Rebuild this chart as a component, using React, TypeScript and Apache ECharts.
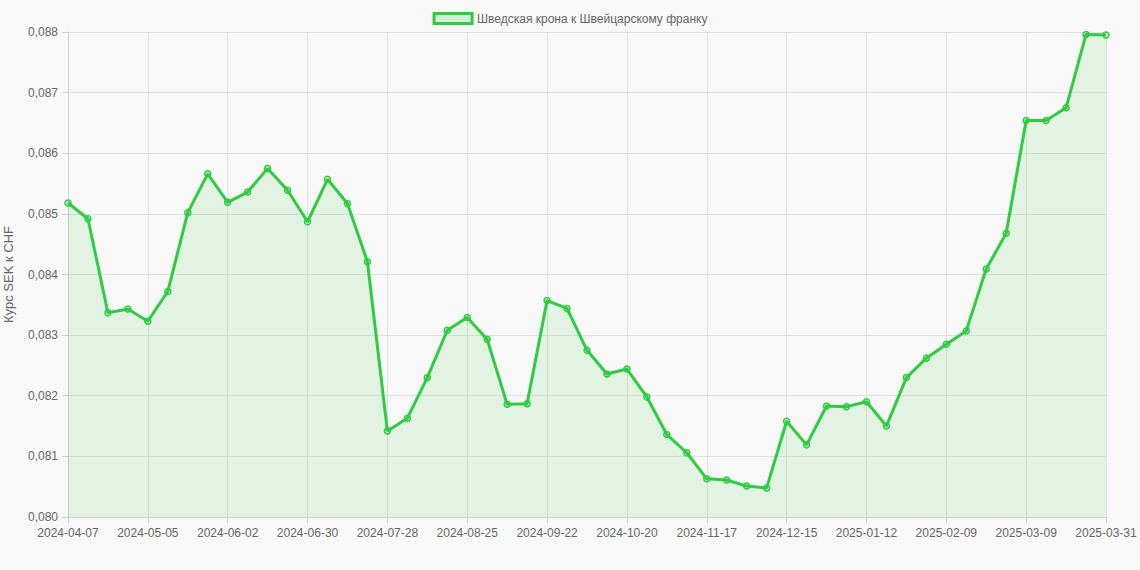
import React, { useEffect, useRef } from "react";
import * as echarts from "echarts";

const dates = [
  "2024-04-07", "2024-04-14", "2024-04-21", "2024-04-28", "2024-05-05", "2024-05-12", "2024-05-19", "2024-05-26",
  "2024-06-02", "2024-06-09", "2024-06-16", "2024-06-23", "2024-06-30", "2024-07-07", "2024-07-14", "2024-07-21",
  "2024-07-28", "2024-08-04", "2024-08-11", "2024-08-18", "2024-08-25", "2024-09-01", "2024-09-08", "2024-09-15",
  "2024-09-22", "2024-09-29", "2024-10-06", "2024-10-13", "2024-10-20", "2024-10-27", "2024-11-03", "2024-11-10",
  "2024-11-17", "2024-11-24", "2024-12-01", "2024-12-08", "2024-12-15", "2024-12-22", "2024-12-29", "2025-01-05",
  "2025-01-12", "2025-01-19", "2025-01-26", "2025-02-02", "2025-02-09", "2025-02-16", "2025-02-23", "2025-03-02",
  "2025-03-09", "2025-03-16", "2025-03-23", "2025-03-30", "2025-03-31",
];

const rates = [
  0.08518, 0.08492, 0.08337, 0.08343, 0.08323, 0.08372, 0.08502, 0.08566,
  0.08519, 0.08536, 0.08575, 0.08539, 0.08487, 0.08557, 0.08517, 0.08421,
  0.08142, 0.08163, 0.0823, 0.08308, 0.08329, 0.08293, 0.08186, 0.08187,
  0.08357, 0.08344, 0.08275, 0.08236, 0.08244, 0.08198, 0.08136, 0.08106,
  0.08063, 0.08061, 0.08051, 0.08048, 0.08158, 0.08119, 0.08183, 0.08182,
  0.0819, 0.0815, 0.0823, 0.08262, 0.08285, 0.08307, 0.08409, 0.08468,
  0.08654, 0.08654, 0.08675, 0.08796, 0.08795,
];

const seriesName = "Шведская крона к Швейцарскому франку";
const yAxisTitle = "Курс SEK к CHF";

const showTick = (i: number) => i % 4 === 0 || i === dates.length - 1;

export default function App() {
  const ref = useRef<HTMLDivElement>(null);
  useEffect(() => {
    if (!ref.current) return;
    const chart = echarts.init(ref.current, undefined, { renderer: "svg" });
    const font = "'Liberation Sans', Arial, Helvetica, sans-serif";
    chart.setOption({
      animation: false,
      backgroundColor: "#f8f8f8",
      textStyle: { fontFamily: font },
      legend: {
        top: 7,
        left: "center",
        itemWidth: 38,
        itemHeight: 10,
        itemGap: 10,
        icon: "rect",
        textStyle: { color: "#666", fontSize: 12, fontFamily: font },
        data: [
          {
            name: seriesName,
            itemStyle: { color: "rgba(46,204,64,0.18)", borderColor: "#2ecc40", borderWidth: 3 },
          },
        ],
      },
      grid: { left: 68, right: 34, top: 32, bottom: 53, containLabel: false, outerBoundsMode: "none" },
      xAxis: {
        type: "category",
        data: dates,
        boundaryGap: false,
        axisLine: { show: true, lineStyle: { color: "#d0d0d0" } },
        axisTick: { show: true, interval: (i: number) => showTick(i), length: 6, lineStyle: { color: "#d0d0d0" } },
        axisLabel: {
          interval: (i: number) => showTick(i),
          color: "#666",
          fontSize: 12,
          margin: 10,
          fontFamily: font,
        },
        splitLine: { show: true, interval: (i: number) => showTick(i), lineStyle: { color: "#e0e0e0" } },
      },
      yAxis: {
        type: "value",
        min: 0.08,
        max: 0.088,
        interval: 0.001,
        name: yAxisTitle,
        nameLocation: "middle",
        nameRotate: 90,
        nameGap: 53,
        nameTextStyle: { color: "#666", fontSize: 13, fontFamily: font },
        axisLine: { show: true, lineStyle: { color: "#d0d0d0" } },
        axisTick: { show: true, length: 6, lineStyle: { color: "#d0d0d0" } },
        axisLabel: {
          color: "#666",
          fontSize: 12,
          margin: 10,
          fontFamily: font,
          formatter: (v: number) => v.toFixed(3).replace(".", ","),
        },
        splitLine: { show: true, lineStyle: { color: "#e0e0e0" } },
      },
      series: [
        {
          name: seriesName,
          type: "line",
          data: rates,
          symbol: "circle",
          symbolSize: 6,
          showAllSymbol: true,
          lineStyle: { color: "#2ecc40", width: 3 },
          itemStyle: { color: "rgba(46,204,64,0.2)", borderColor: "#2ecc40", borderWidth: 1.5 },
          areaStyle: { color: "rgba(46,204,64,0.15)" },
        },
      ],
    });
    return () => chart.dispose();
  }, []);
  return (
    <div
      ref={ref}
      style={{ position: "absolute", left: 0, top: 0, width: 1140, height: 570 }}
    />
  );
}
